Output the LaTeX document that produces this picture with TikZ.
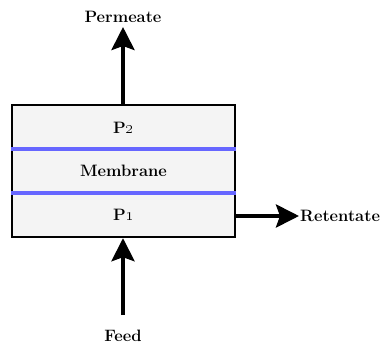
\documentclass[tikz,border=0pt]{standalone}
\usetikzlibrary{arrows.meta}
\definecolor{boxfill}{HTML}{F4F4F4}
\definecolor{membraneblue}{HTML}{6666FF}
\begin{document}
\begin{tikzpicture}[x=1pt,y=-1pt,
  lbl/.style={font=\fontsize{16.5}{19}\selectfont\bfseries, inner sep=1pt},
  flow/.style={line width=4pt, -{Stealth[length=23pt,width=23pt,inset=4pt]}},
  sheet/.style={membraneblue, line width=4pt}]
  \useasboundingbox (0,0) rectangle (385,350);
  % membrane unit
  \node[draw=black, line width=2.4pt, fill=boxfill, minimum width=223pt,
        minimum height=132pt, inner sep=0pt] (unit) at (123.5,171) {};
  \draw[sheet] (unit.west |- 0,149) -- (unit.east |- 0,149);
  \draw[sheet] (unit.west |- 0,193) -- (unit.east |- 0,193);
  \node[lbl] (p2) at (123.5,128) {P\oldstylenums{2}};
  \node[lbl] (mem) at (123.5,171) {Membrane};
  \node[lbl] (p1) at (123.5,215) {P\oldstylenums{1}};
  % streams
  \node[lbl] (perm) at (123,17) {Permeate};
  \coordinate (permtip) at (123,27);
  \draw[flow] (unit.north -| permtip) -- (permtip);
  \node[lbl] (feed) at (123,336) {Feed};
  \coordinate (feedtail) at (123,315);
  \draw[flow] (feedtail) -- (unit.south -| feedtail);
  \node[lbl, anchor=west] (ret) at (299,216) {Retentate};
  \coordinate (retstart) at (unit.east |- 0,216);
  \draw[flow] (retstart) -- (ret.west);
\end{tikzpicture}
\end{document}
